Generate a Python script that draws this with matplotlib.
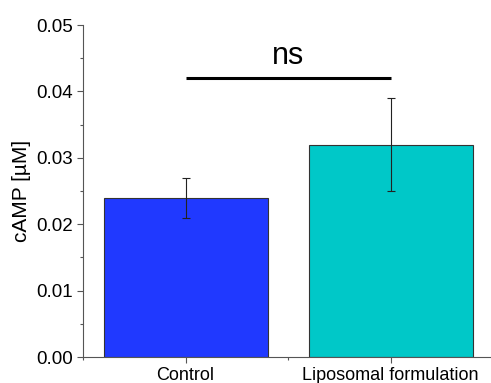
import matplotlib
matplotlib.use("Agg")
import matplotlib.pyplot as plt
from matplotlib.ticker import MultipleLocator

categories = ["Control", "Liposomal formulation"]
values = [0.024, 0.032]
errors = [0.003, 0.007]
colors = ["#2039ff", "#00c8c8"]
sig_y = 0.042
sig_label = "ns"

plt.rcParams['font.family'] = ['Liberation Sans', 'DejaVu Sans']

fig = plt.figure(figsize=(4.91, 3.83), dpi=100)
ax = fig.add_axes([83/491, 26/383, 410/491, 332/383])

x = [1, 2]
ax.bar(x, values, width=0.8, color=colors, edgecolor="#333333", linewidth=0.8, zorder=2)
ax.errorbar(x, values, yerr=errors, fmt="none", ecolor="#222222", elinewidth=0.8,
            capsize=3, capthick=0.8, zorder=3)

ax.plot([1, 2], [sig_y, sig_y], color="black", linewidth=2.2, solid_capstyle="butt")
ax.text(1.5, 0.0441, sig_label, ha="center", va="baseline", fontsize=22)

ax.set_xlim(0.5, 2.5)
ax.set_ylim(0, 0.05)
ax.set_xticks(x)
ax.set_xticklabels(categories, fontsize=13)
ax.xaxis.set_minor_locator(MultipleLocator(0.5))
ax.yaxis.set_major_locator(MultipleLocator(0.01))
ax.yaxis.set_minor_locator(MultipleLocator(0.005))
ax.yaxis.set_major_formatter(matplotlib.ticker.FormatStrFormatter("%.2f"))
ax.tick_params(axis="y", labelsize=13.5, pad=3)
ax.tick_params(axis="x", pad=3)
ax.tick_params(which="both", direction="out", color="#555555")
ax.tick_params(which="major", length=4, width=0.8)
ax.tick_params(which="minor", length=2, width=0.8)
ax.set_ylabel("cAMP [µM]", fontsize=15, labelpad=4)

for s in ["top", "right"]:
    ax.spines[s].set_visible(False)
for s in ["left", "bottom"]:
    ax.spines[s].set_color("#555555")
    ax.spines[s].set_linewidth(0.8)

fig.savefig("out.png", dpi=100)
